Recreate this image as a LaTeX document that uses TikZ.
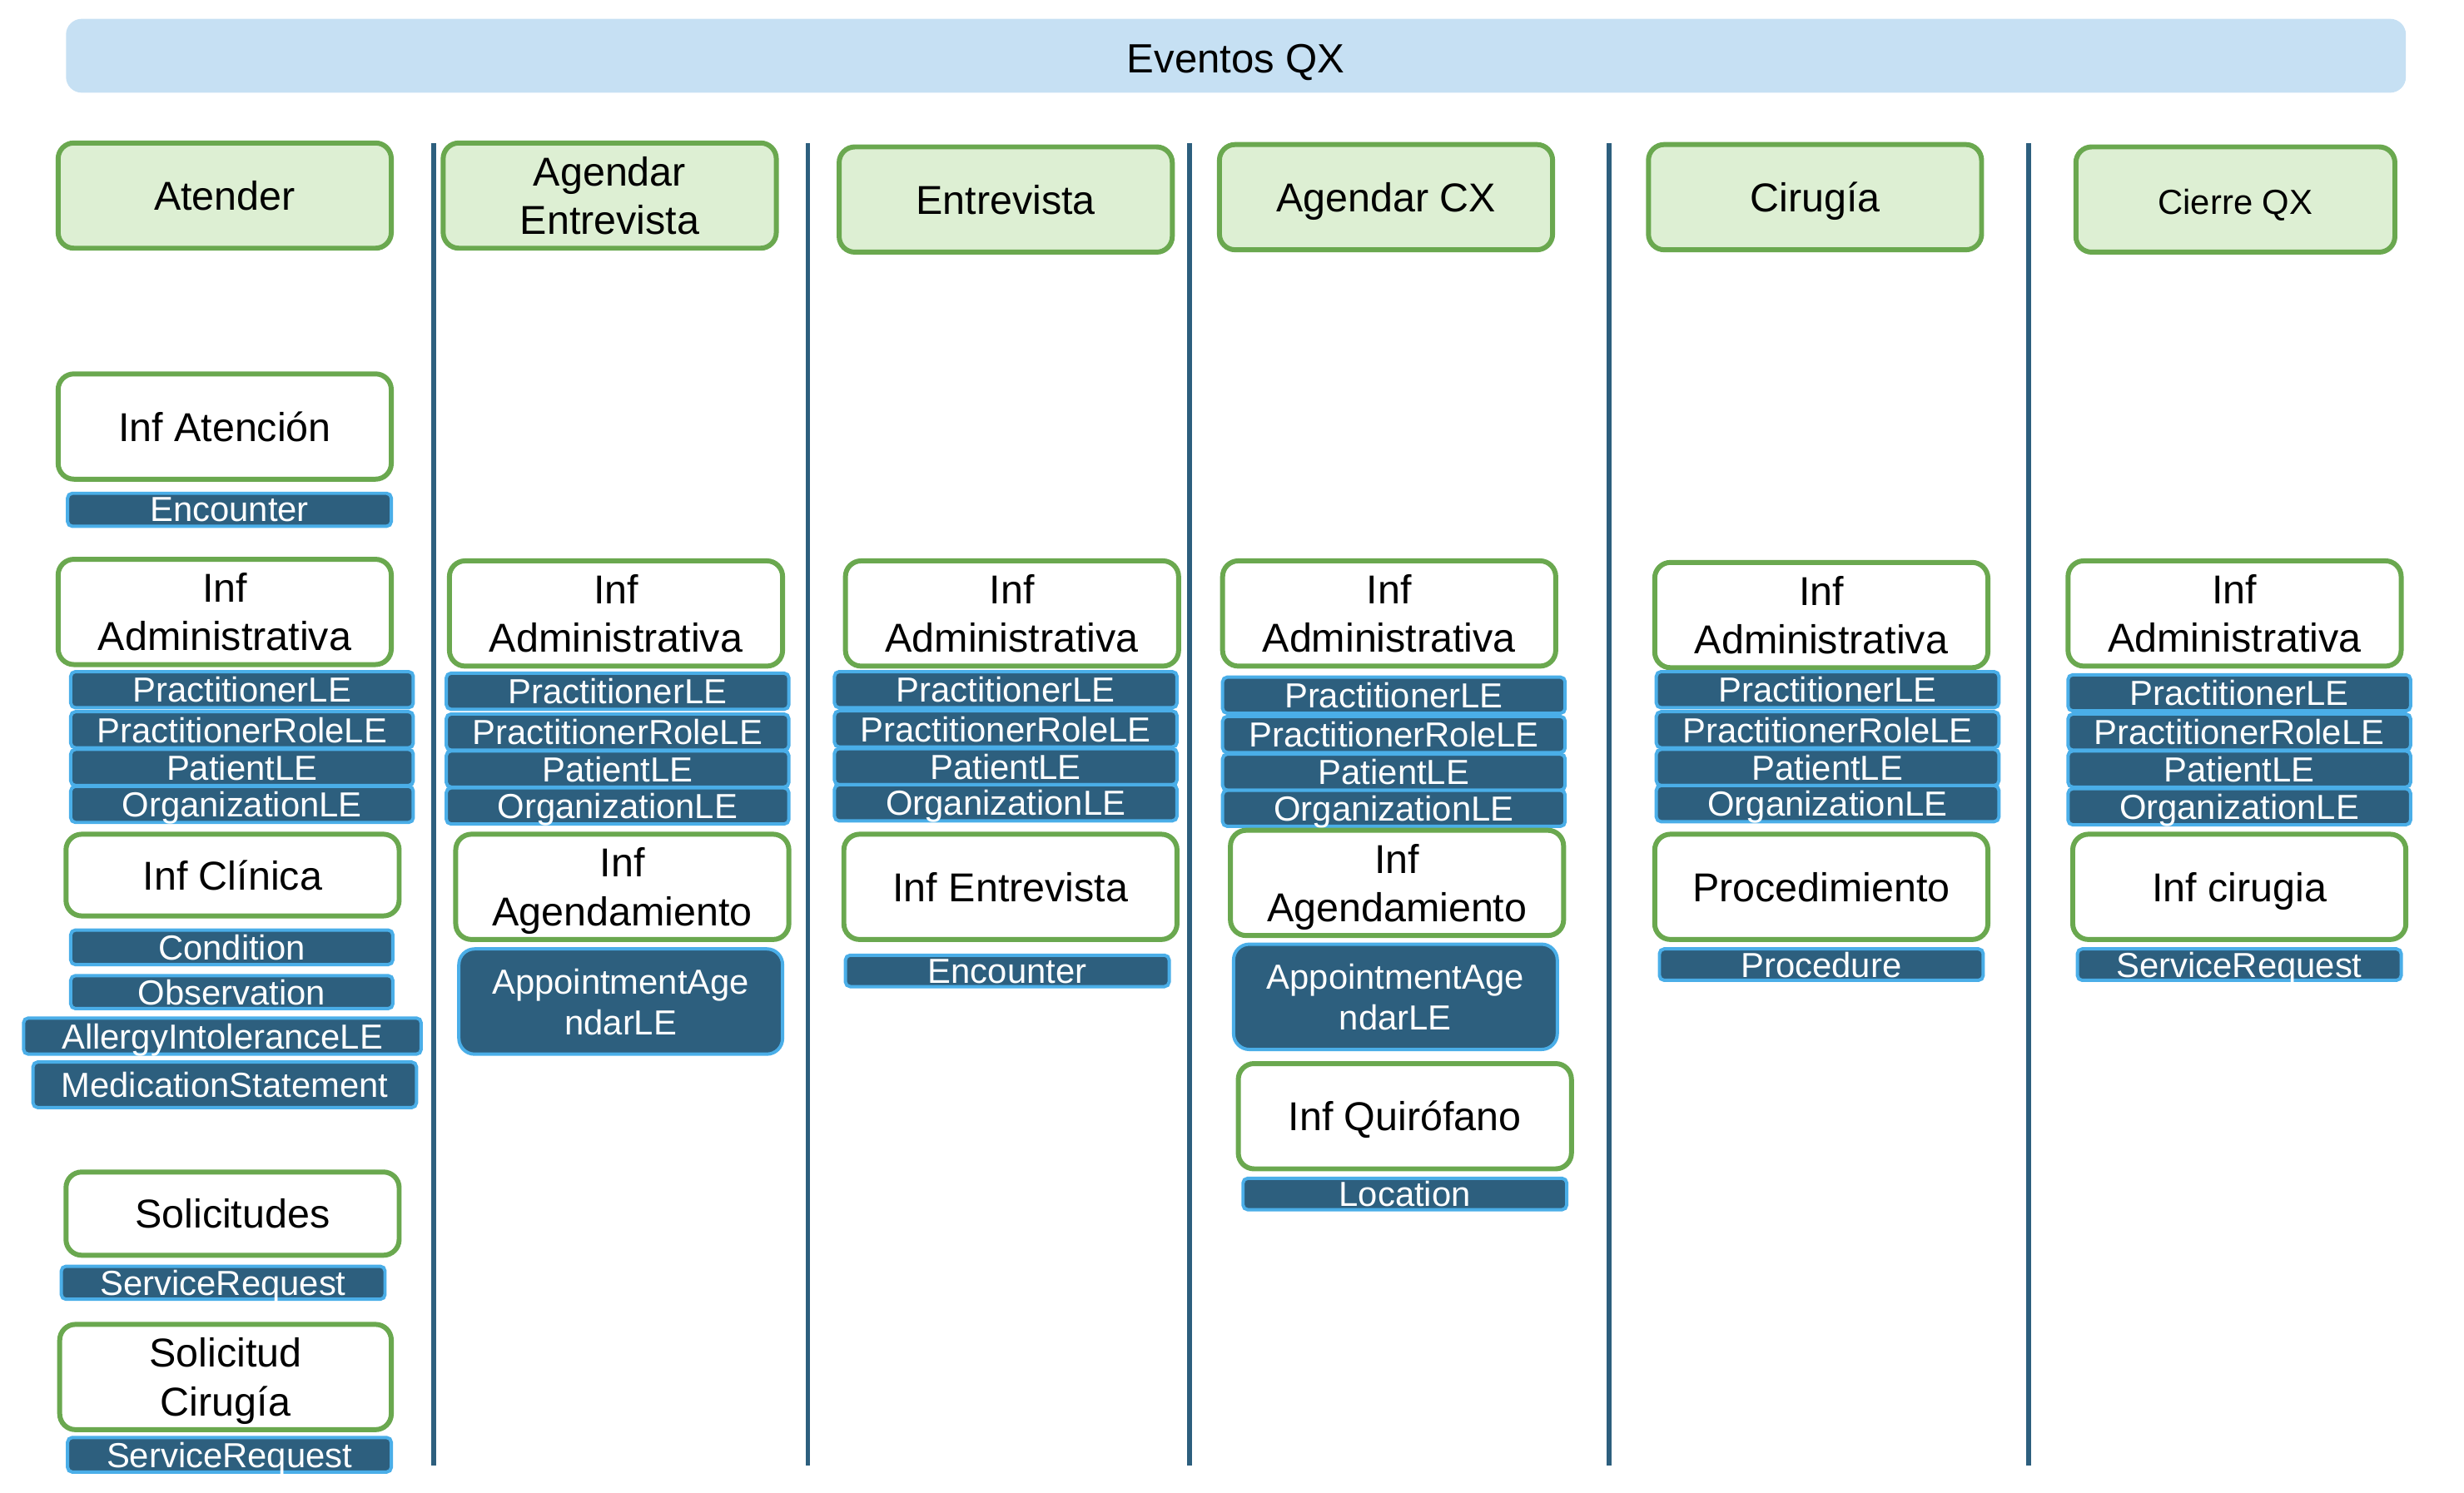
\documentclass[tikz,border=0pt]{standalone}
\usepackage{fontspec}
\setmainfont{Liberation Sans}
\usepackage{xcolor}
\definecolor{qxnavy}{HTML}{2D5F7E}
\definecolor{qxsky}{HTML}{4AAEE8}
\definecolor{qxgreen}{HTML}{6AA84F}
\definecolor{qxmint}{HTML}{DDEFD3}
\definecolor{qxbar}{HTML}{C6E0F3}
\usepackage{tikz}

\begin{document}
\begin{tikzpicture}[
  font=\fontsize{7.3}{8.8}\selectfont,
  box/.style={draw=qxgreen,line width=0.9pt,rounded corners=0.1cm,align=center,
    minimum width=2.12cm,minimum height=0.67cm,inner sep=1pt},
  stage/.style={box,fill=qxmint},
  infobox/.style={box,fill=white},
  oneline/.style={text height=5.3pt,text depth=0pt},
  tag/.style={draw=qxsky,fill=qxnavy,line width=0.6pt,rounded corners=0.03cm,
    text=white,font=\fontsize{6.3}{7.4}\selectfont,inner sep=0pt,text depth=0pt,
    minimum width=2.06cm,minimum height=0.21cm},
  admtag/.style={tag,minimum width=2.18cm,minimum height=0.23cm},
  appt/.style={tag,rounded corners=0.1cm,minimum height=0.67cm,align=center},
  lane/.style={draw=qxnavy,line width=0.8pt}
]
\useasboundingbox (0,0) rectangle (15.68,-9.50);
\node[fill=qxbar,rounded corners=0.1cm,minimum width=14.89cm,minimum height=0.47cm,
  font=\fontsize{7.4}{8.8}\selectfont,text height=6.1pt,text depth=0pt,inner sep=1pt]
  (eventos) at (7.865,-0.355) {Eventos QX};
\node[stage,oneline] (atender) at (1.43,-1.245) {Atender};
\node[stage] (agendarEnt) at (3.88,-1.245) {Agendar\\Entrevista};
\node[stage,oneline] (entrevista) at (6.40,-1.27) {Entrevista};
\node[stage,oneline] (agendarCx) at (8.82,-1.255) {Agendar CX};
\node[stage,oneline] (cirugia) at (11.55,-1.255) {Cirugía};
\node[stage,oneline,minimum width=2.03cm,font=\fontsize{6.3}{7.4}\selectfont] (cierre)
  at (14.225,-1.27) {Cierre QX};
\draw[lane] (2.76,-0.91) -- (2.76,-9.33);
\draw[lane] (5.14,-0.91) -- (5.14,-9.33);
\draw[lane] (7.57,-0.91) -- (7.57,-9.33);
\draw[lane] (10.24,-0.91) -- (10.24,-9.33);
\draw[lane] (12.91,-0.91) -- (12.91,-9.33);
\node[infobox,oneline] (infAtencion) at (1.43,-2.715) {Inf Atención};
\node[tag] (encounter1) at (1.46,-3.245) {Encounter};
\node[infobox] (adm1) at (1.43,-3.895) {Inf\\Administrativa};
\node[admtag] (pr1) at (1.54,-4.39) {PractitionerLE};
\node[admtag] (prr1) at (1.54,-4.645) {PractitionerRoleLE};
\node[admtag] (pat1) at (1.54,-4.885) {PatientLE};
\node[admtag] (org1) at (1.54,-5.12) {OrganizationLE};
\node[infobox,oneline,minimum height=0.52cm] (infClinica) at (1.48,-5.57) {Inf Clínica};
\node[tag,minimum width=2.05cm,minimum height=0.22cm] (condition) at (1.475,-6.03) {Condition};
\node[tag,minimum width=2.05cm] (observation) at (1.475,-6.315) {Observation};
\node[tag,minimum width=2.53cm,minimum height=0.23cm] (allergy) at (1.415,-6.595)
  {AllergyIntoleranceLE};
\node[tag,minimum width=2.44cm,minimum height=0.29cm] (medication) at (1.43,-6.905)
  {MedicationStatement};
\node[infobox,oneline,minimum height=0.53cm] (solicitudes) at (1.48,-7.725) {Solicitudes};
\node[tag] (servReq1) at (1.42,-8.165) {ServiceRequest};
\node[infobox,minimum width=2.11cm,text depth=0pt] (solCirugia) at (1.435,-8.765)
  {Solicitud\\Cirugía};
\node[tag,minimum height=0.22cm] (servReq2) at (1.46,-9.26) {ServiceRequest};
\node[infobox] (adm2) at (3.92,-3.905) {Inf\\Administrativa};
\node[admtag] (pr2) at (3.93,-4.40) {PractitionerLE};
\node[admtag] (prr2) at (3.93,-4.66) {PractitionerRoleLE};
\node[admtag] (pat2) at (3.93,-4.895) {PatientLE};
\node[admtag] (org2) at (3.93,-5.13) {OrganizationLE};
\node[infobox,text depth=0pt] (infAgenda2) at (3.96,-5.645) {Inf\\Agendamiento};
\node[appt] (appt2) at (3.95,-6.375) {AppointmentAge\\ndarLE};
\node[infobox] (adm3) at (6.44,-3.905) {Inf\\Administrativa};
\node[admtag] (pr3) at (6.40,-4.39) {PractitionerLE};
\node[admtag] (prr3) at (6.40,-4.64) {PractitionerRoleLE};
\node[admtag] (pat3) at (6.40,-4.88) {PatientLE};
\node[admtag] (org3) at (6.40,-5.11) {OrganizationLE};
\node[infobox,oneline] (infEntrevista) at (6.43,-5.645) {Inf Entrevista};
\node[tag,minimum height=0.20cm] (encounter3) at (6.41,-6.18) {Encounter};
\node[infobox] (adm4) at (8.84,-3.905) {Inf\\Administrativa};
\node[admtag] (pr4) at (8.87,-4.425) {PractitionerLE};
\node[admtag] (prr4) at (8.87,-4.675) {PractitionerRoleLE};
\node[admtag] (pat4) at (8.87,-4.915) {PatientLE};
\node[admtag] (org4) at (8.87,-5.145) {OrganizationLE};
\node[infobox,text depth=0pt] (infAgenda4) at (8.89,-5.62) {Inf\\Agendamiento};
\node[appt] (appt4) at (8.88,-6.345) {AppointmentAge\\ndarLE};
\node[infobox,oneline] (infQuirofano) at (8.94,-7.105) {Inf Quirófano};
\node[tag,minimum height=0.20cm] (location) at (8.94,-7.60) {Location};
\node[infobox] (adm5) at (11.59,-3.915) {Inf\\Administrativa};
\node[admtag] (pr5) at (11.63,-4.39) {PractitionerLE};
\node[admtag] (prr5) at (11.63,-4.645) {PractitionerRoleLE};
\node[admtag] (pat5) at (11.63,-4.885) {PatientLE};
\node[admtag] (org5) at (11.63,-5.115) {OrganizationLE};
\node[infobox,oneline] (procedimiento) at (11.59,-5.645) {Procedimiento};
\node[tag,minimum height=0.20cm] (procedure) at (11.59,-6.14) {Procedure};
\node[infobox] (adm6) at (14.22,-3.905) {Inf\\Administrativa};
\node[admtag] (pr6) at (14.25,-4.41) {PractitionerLE};
\node[admtag] (prr6) at (14.25,-4.66) {PractitionerRoleLE};
\node[admtag] (pat6) at (14.25,-4.895) {PatientLE};
\node[admtag] (org6) at (14.25,-5.135) {OrganizationLE};
\node[infobox,oneline] (infCirugia) at (14.25,-5.645) {Inf cirugia};
\node[tag,minimum height=0.20cm] (servReq6) at (14.25,-6.14) {ServiceRequest};
\end{tikzpicture}
\end{document}
